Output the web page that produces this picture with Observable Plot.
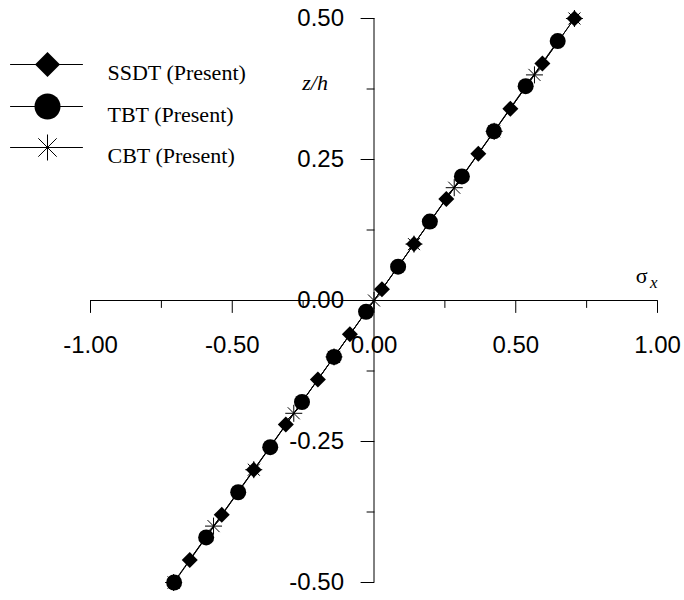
<!DOCTYPE html>
<html>
<head>
<meta charset="utf-8">
<script src="https://cdn.jsdelivr.net/npm/d3@7"></script>
<script src="https://cdn.jsdelivr.net/npm/@observablehq/plot@0.6"></script>
<style>
  body { margin: 0; background: #fff; }
  #chart { width: 684px; height: 600px; }
</style>
</head>
<body>
<div id="chart"></div>
<script>
// Through-thickness distribution of the normalised axial stress σx against z/h
const ssdtZ  = [0.50, 0.42, 0.34, 0.26, 0.18, 0.10, 0.02, -0.06, -0.14, -0.22, -0.30, -0.38, -0.46];
const ssdtSx = [0.707, 0.594, 0.481, 0.368, 0.255, 0.141, 0.028, -0.085, -0.198, -0.311, -0.424, -0.537, -0.650];

const tbtZ  = [0.46, 0.38, 0.30, 0.22, 0.14, 0.06, -0.02, -0.10, -0.18, -0.26, -0.34, -0.42, -0.50];
const tbtSx = [0.648, 0.535, 0.423, 0.310, 0.197, 0.085, -0.028, -0.141, -0.254, -0.366, -0.479, -0.592, -0.705];

const cbtZ  = [0.50, 0.40, 0.30, 0.20, 0.10, 0.00, -0.10, -0.20, -0.30, -0.40, -0.50];
const cbtSx = [0.707, 0.566, 0.424, 0.283, 0.141, 0.000, -0.141, -0.283, -0.424, -0.566, -0.707];

const seriesNames = ["SSDT (Present)", "TBT (Present)", "CBT (Present)"];

// axis ticks
const xMajor = [-1, -0.5, 0, 0.5, 1];
const xMinor = [-0.75, -0.25, 0.25, 0.75];
const xTickLabels = ["-1.00", "-0.50", "0.00", "0.50", "1.00"];
const yMajor = [0.5, 0.25, 0, -0.25, -0.5];
const yMinor = [0.375, 0.125, -0.125, -0.375];
const yTickLabels = ["0.50", "0.25", "0.00", "-0.25", "-0.50"];

const toRows = (zs, sx) => zs.map((z, i) => ({z, sx: sx[i]}));
const ssdt = toRows(ssdtZ, ssdtSx);
const tbt = toRows(tbtZ, tbtSx);
const cbt = toRows(cbtZ, cbtSx);

// marker shapes
const radius = (size) => Math.sqrt(size / Math.PI);
const diamond = {
  draw(ctx, size) {
    const r = radius(size);
    ctx.moveTo(0, -r); ctx.lineTo(r, 0); ctx.lineTo(0, r); ctx.lineTo(-r, 0); ctx.closePath();
  }
};
const asterisk = {
  draw(ctx, size) {
    const r = radius(size), d = r * Math.SQRT1_2;
    ctx.moveTo(0, -r); ctx.lineTo(0, r);
    ctx.moveTo(-r, 0); ctx.lineTo(r, 0);
    ctx.moveTo(-d, -d); ctx.lineTo(d, d);
    ctx.moveTo(-d, d); ctx.lineTo(d, -d);
  }
};
// straight stroke used for tick marks and legend lines
const stroke = {
  draw(ctx, l) { ctx.moveTo(0, 0); ctx.lineTo(0, -l); }
};

const sans = "Liberation Sans, Arial, Helvetica, sans-serif";
const serif = "Liberation Serif, Times New Roman, serif";

const series = [
  {data: ssdt, symbol: diamond, fill: "black", stroke: "none", r: 8, lr: 12.5},
  {data: tbt, symbol: "circle", fill: "black", stroke: "none", r: 8, lr: 13},
  {data: cbt, symbol: asterisk, fill: "none", stroke: "black", r: 8.5, lr: 13}
];
const legendDy = [46, 88, 129];

const marks = [
  // axes crossing at the origin
  Plot.ruleY([0], {stroke: "black", strokeWidth: 1}),
  Plot.ruleX([0], {stroke: "black", strokeWidth: 1}),
  Plot.vector(xMajor, {x: d => d, y: () => 0, length: 12, rotate: 180, anchor: "start", shape: stroke, stroke: "black", strokeWidth: 1}),
  Plot.vector(xMinor, {x: d => d, y: () => 0, length: 7, rotate: 180, anchor: "start", shape: stroke, stroke: "black", strokeWidth: 1}),
  Plot.vector(yMajor, {x: () => 0, y: d => d, length: 13, rotate: -90, anchor: "start", shape: stroke, stroke: "black", strokeWidth: 1}),
  Plot.vector(yMinor, {x: () => 0, y: d => d, length: 7, rotate: -90, anchor: "start", shape: stroke, stroke: "black", strokeWidth: 1}),
  Plot.text(xMajor, {x: d => d, y: () => 0, dy: 45, text: (d, i) => xTickLabels[i], fontFamily: sans, fontSize: 24, fill: "black"}),
  Plot.text(yMajor, {x: () => 0, y: d => d, dx: -30, text: (d, i) => yTickLabels[i], textAnchor: "end", fontFamily: sans, fontSize: 24, fill: "black"}),
  // axis titles
  Plot.text(["z/h"], {x: () => 0, y: () => 0.375, dx: -46, dy: 1, textAnchor: "end", lineAnchor: "bottom", fontFamily: serif, fontStyle: "italic", fontSize: 22, fill: "black"}),
  Plot.text(["σ"], {x: () => 1, y: () => 0, dx: -10, dy: -18, textAnchor: "end", lineAnchor: "bottom", fontFamily: serif, fontSize: 22, fill: "black"}),
  Plot.text(["x"], {x: () => 1, y: () => 0, dx: 0, dy: -13, textAnchor: "end", lineAnchor: "bottom", fontFamily: serif, fontStyle: "italic", fontSize: 17, fill: "black"})
];

// data lines, then markers
for (const s of series) {
  marks.push(Plot.line(s.data, {x: "sx", y: "z", stroke: "black", strokeWidth: 1}));
}
for (const s of series) {
  marks.push(Plot.dot(s.data, {x: "sx", y: "z", r: s.r, symbol: s.symbol, fill: s.fill, stroke: s.stroke, strokeWidth: 1}));
}

// legend in the upper-left corner
series.forEach((s, i) => {
  const dy = legendDy[i];
  marks.push(
    Plot.vector([0], {frameAnchor: "top-left", dx: -80, dy, length: 72, rotate: 90, anchor: "start", shape: stroke, stroke: "black", strokeWidth: 1}),
    Plot.dot([0], {frameAnchor: "top-left", dx: -43, dy, r: s.lr, symbol: s.symbol, fill: s.fill, stroke: s.stroke, strokeWidth: 1}),
    Plot.text([seriesNames[i]], {frameAnchor: "top-left", dx: 17, dy, textAnchor: "start", fontFamily: serif, fontSize: 22, fill: "black"})
  );
});

const chart = Plot.plot({
  width: 684,
  height: 600,
  marginLeft: 90,
  marginRight: 27,
  marginTop: 18,
  marginBottom: 18,
  x: {domain: [-1, 1], axis: null},
  y: {domain: [-0.5, 0.5], axis: null},
  style: {background: "white", overflow: "visible"},
  marks
});
document.getElementById("chart").append(chart);
</script>
</body>
</html>
